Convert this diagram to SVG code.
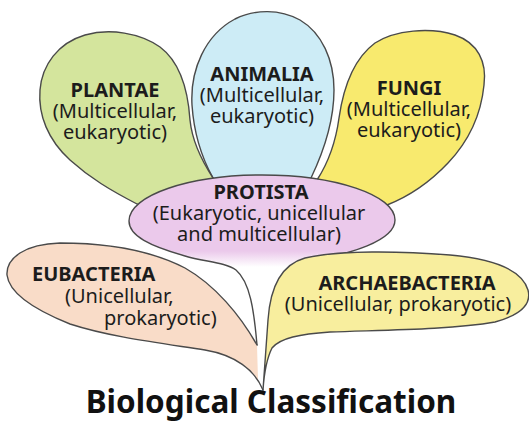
<svg xmlns="http://www.w3.org/2000/svg" width="529" height="423" viewBox="0 0 529 423">
<defs>
<linearGradient id="protGrad" x1="0" y1="175" x2="0" y2="275" gradientUnits="userSpaceOnUse">
<stop offset="0" stop-color="#ebc9eb"/>
<stop offset="0.76" stop-color="#ebc9eb"/>
<stop offset="0.92" stop-color="#ffffff"/>
<stop offset="1" stop-color="#ffffff"/>
</linearGradient>
<style>
.out{fill:none;stroke:#4a4a4a;stroke-width:1.4;stroke-linejoin:round;stroke-linecap:round}
.head{font-family:"Noto Sans","Open Sans",sans-serif;font-weight:bold;font-size:20px;fill:#1c1c1c}
.sub{font-family:"Noto Sans","Open Sans",sans-serif;font-size:20px;fill:#1c1c1c}
.c{text-anchor:middle}
.title{font-family:"Noto Sans","Open Sans",sans-serif;font-weight:bold;font-size:31.5px;fill:#111;text-anchor:middle}
</style>
</defs>
<rect width="529" height="423" fill="#ffffff"/>

<g id="animalia">
<path d="M213,178 C203,160 194,135 192,105 C190,70 205,35 235,19 C255,9 280,9 300,20 C322,33 334,60 334,90 C334,125 322,155 311,178 L262,240 Z" class="out" style="fill:#cdecf6"/>
<text class="head c" x="262" y="81">ANIMALIA</text>
<text class="sub c" x="262" y="102">(Multicellular,</text>
<text class="sub c" x="262" y="123">eukaryotic)</text>
</g>

<g id="plantae">
<path d="M213,178 C200,158 192,140 190,120 C188,90 180,62 160,47 C140,33 110,28 85,35 C58,43 42,65 40,90 C38,115 48,140 70,160 C90,178 110,190 137,204 L230,240 Z" class="out" style="fill:#d4e59d"/>
<text class="head c" x="115" y="97">PLANTAE</text>
<text class="sub c" x="115" y="118">(Multicellular,</text>
<text class="sub c" x="115" y="139">eukaryotic)</text>
</g>

<g id="fungi">
<path d="M317,180 C330,160 336,140 339,118 C343,90 352,60 375,43 C395,30 430,27 455,35 C478,43 487,62 484,85 C481,115 468,142 448,163 C430,182 410,196 387,205 L300,240 Z" class="out" style="fill:#f8ea6e"/>
<text class="head c" x="409" y="95">FUNGI</text>
<text class="sub c" x="409" y="116">(Multicellular,</text>
<text class="sub c" x="409" y="137">eukaryotic)</text>
</g>

<g id="protista">
<path d="M257,345 C254,310 250,282 236,270 C225,262 205,262 185,256 C150,246 129,236 129,221 C129,195 190,175 262,175 C335,175 395,195 395,220 C395,240 350,256 307,259 C285,265 271,290 268,340 L263,390 Z" style="fill:url(#protGrad)"/>
<path d="M257,345 C254,310 250,282 236,270 C225,262 205,262 185,256 C150,246 129,236 129,221 C129,195 190,175 262,175 C335,175 395,195 395,220 C395,240 350,256 307,259 C285,265 271,290 268,340" class="out"/>
<text class="head c" x="261" y="199">PROTISTA</text>
<text class="sub c" x="259" y="220">(Eukaryotic, unicellular</text>
<text class="sub c" x="259" y="241">and multicellular)</text>
</g>

<g id="eubacteria">
<path d="M257,345 C240,315 215,285 185,268 C150,250 110,243 60,243 C25,244 6,258 7,275 C9,292 30,308 70,324 C110,337 160,343 205,350 C232,355 250,366 258,380 Z" style="fill:#f9dcc8"/>
<path d="M257,345 C240,315 215,285 185,268 C150,250 110,243 60,243 C25,244 6,258 7,275 C9,292 30,308 70,324 C110,337 160,343 205,350 C235,355 255,370 263,390" class="out"/>
<text class="head" x="32" y="281">EUBACTERIA</text>
<text class="sub" x="65" y="303">(Unicellular,</text>
<text class="sub" x="104" y="325">prokaryotic)</text>
</g>

<g id="archaebacteria">
<path d="M263,390 C265,365 266,345 268,320 C270,290 280,265 305,258 C340,250 400,251 450,255 C495,259 522,270 528,290 C532,305 520,315 495,322 C450,330 380,330 330,332 C300,334 280,338 272,348 C267,358 264,375 263,390 Z" class="out" style="fill:#f8ee9e"/>
<text class="head c" x="407" y="290">ARCHAEBACTERIA</text>
<text class="sub c" x="398" y="311">(Unicellular, prokaryotic)</text>
</g>

<g id="connectors"></g>

<text class="title" x="271" y="413">Biological Classification</text>
</svg>
